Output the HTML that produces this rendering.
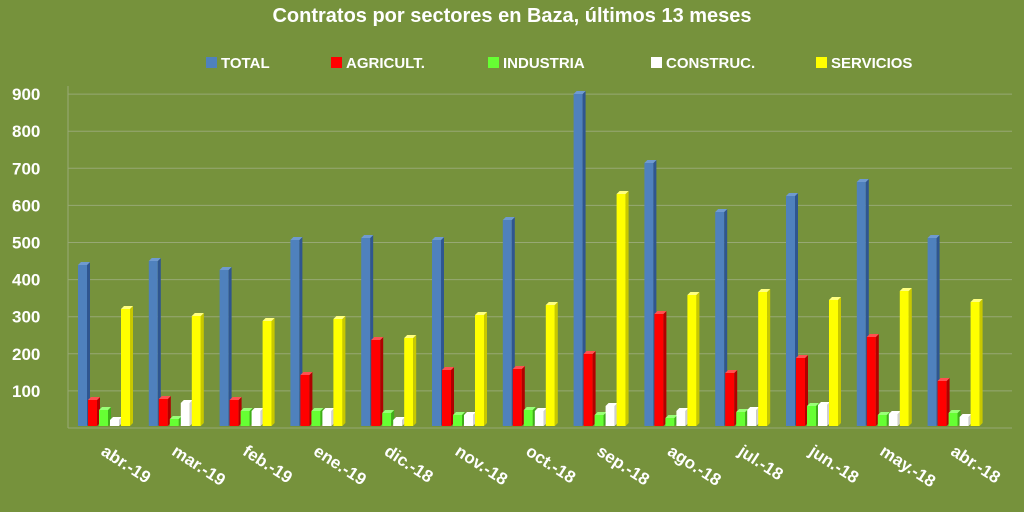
<!DOCTYPE html>
<html><head><meta charset="utf-8"><style>
html,body{margin:0;padding:0;background:#76923c;}
svg{display:block;font-family:"Liberation Sans",sans-serif;}
</style></head><body>
<svg id="c" width="1024" height="512" xmlns="http://www.w3.org/2000/svg">
<rect width="1024" height="512" fill="#76923c"/>
<text x="512" y="22" text-anchor="middle" fill="#fff" font-weight="bold" font-size="20">Contratos por sectores en Baza, últimos 13 meses</text>
<g font-size="15" font-weight="bold" fill="#fff">
<rect x="206" y="57" width="11" height="11" fill="#4f81bd"/><text x="221" y="68">TOTAL</text>
<rect x="331" y="57" width="11" height="11" fill="#ff0000"/><text x="346" y="68">AGRICULT.</text>
<rect x="488" y="57" width="11" height="11" fill="#66ff33"/><text x="503" y="68">INDUSTRIA</text>
<rect x="651" y="57" width="11" height="11" fill="#ffffff"/><text x="666" y="68">CONSTRUC.</text>
<rect x="816" y="57" width="11" height="11" fill="#ffff00"/><text x="831" y="68">SERVICIOS</text>
</g>
<g id="grid"></g>
<g id="bars"></g>
<g id="labels" font-size="17" font-weight="bold" fill="#fff"></g>
</svg>
<script>
var ns="http://www.w3.org/2000/svg";
function el(p,t,a,txt){var e=document.createElementNS(ns,t);for(var k in a)e.setAttribute(k,a[k]);if(txt)e.textContent=txt;p.appendChild(e);return e;}
var g=document.getElementById('grid'),b=document.getElementById('bars'),l=document.getElementById('labels');
el(g,'line',{x1:68,y1:86,x2:68,y2:428,stroke:'#9aab78','stroke-width':1});
for(var i=0;i<=9;i++){var y=428-i*37.1;
 el(g,'line',{x1:68,y1:y,x2:1012,y2:y,stroke:'#97a874','stroke-width':1});
 if(i>0)el(l,'text',{x:12,y:y+6},String(i*100));}
var tops=[[265,261,270,240,238,240,220,94,163,212,196,182,238],
[400,399,400,375,340,370,369,354,314,373,358,337,381],
[410,419,411,411,413,415,410,415,418,412,406,415,413],
[420,403,411,411,420,415,411,406,411,410,405,414,417],
[309,316,321,319,338,315,305,194,295,292,300,291,302]];
var fc=['#4f81bd','#ff0000','#66ff33','#ffffff','#ffff00'];
var sc=['#2f5690','#b00000','#3fae1a','#cfcfcf','#c8c800'];
var tc=['#6f9ad0','#ff5050','#99ff77','#ffffff','#ffff80'];
var offs=[0,10,21,32,43];
var labs=['abr.-19','mar.-19','feb.-19','ene.-19','dic.-18','nov.-18','oct.-18','sep.-18','ago.-18','jul.-18','jun.-18','may.-18','abr.-18'];
for(var k=0;k<13;k++){var gx=78+k*70.8;
 for(var s=0;s<5;s++){var x=gx+offs[s],t=tops[s][k],w=9,base=426;
  el(b,'rect',{x:x,y:t,width:w,height:base-t,fill:fc[s]});
  el(b,'polygon',{points:(x+w)+','+t+' '+(x+w+3)+','+(t-3)+' '+(x+w+3)+','+(base-3)+' '+(x+w)+','+base,fill:sc[s]});
  el(b,'polygon',{points:x+','+t+' '+(x+3)+','+(t-3)+' '+(x+w+3)+','+(t-3)+' '+(x+w)+','+t,fill:tc[s]});
 }
 var tx=gx+22,ty=454;
 el(l,'text',{x:tx,y:ty,transform:'rotate(33 '+tx+' '+ty+')','font-size':'17'},labs[k]);
}
</script>
</body></html>
